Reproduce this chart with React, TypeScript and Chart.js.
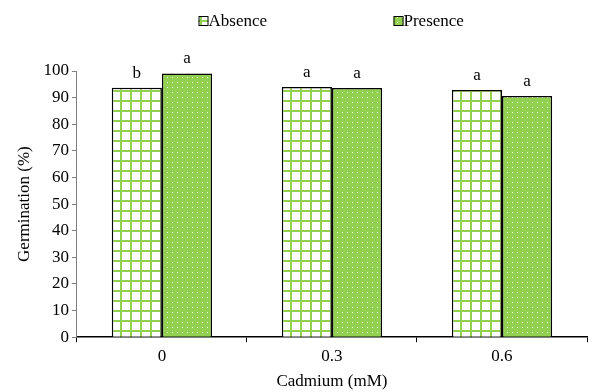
import React, { useEffect, useRef } from "react";
import { Chart, registerables } from "chart.js";

Chart.register(...registerables);

const categories = ["0", "0.3", "0.6"];
const absenceValues = [93.7, 94.0, 92.9];
const presenceValues = [99.1, 93.6, 90.6];
const absenceLetters = ["b", "a", "a"];
const presenceLetters = ["a", "a", "a"];
const seriesNames = ["Absence", "Presence"];

const GREEN = "#92d050";
const FONT = "'Liberation Serif', 'Times New Roman', serif";

function makeGridPattern(ctx: CanvasRenderingContext2D) {
  const c = document.createElement("canvas");
  c.width = 10;
  c.height = 10;
  const g = c.getContext("2d")!;
  g.fillStyle = "#ffffff";
  g.fillRect(0, 0, 10, 10);
  g.fillStyle = GREEN;
  g.fillRect(0, 0, 2, 10);
  g.fillRect(0, 0, 10, 2);
  return ctx.createPattern(c, "repeat")!;
}

function makeDotPattern(ctx: CanvasRenderingContext2D) {
  const c = document.createElement("canvas");
  c.width = 5;
  c.height = 5;
  const g = c.getContext("2d")!;
  g.fillStyle = GREEN;
  g.fillRect(0, 0, 5, 5);
  g.fillStyle = "rgba(255,255,255,0.9)";
  g.fillRect(2, 2, 1, 1);
  return ctx.createPattern(c, "repeat")!;
}

export default function App() {
  const ref = useRef<HTMLCanvasElement | null>(null);

  useEffect(() => {
    document.body.style.margin = "0";
    const canvas = ref.current!;
    const ctx = canvas.getContext("2d")!;
    const gridPat = makeGridPattern(ctx);
    const dotPat = makeDotPattern(ctx);
    const letters = [absenceLetters, presenceLetters];
    const fills = [gridPat, dotPat];

    const lettersPlugin = {
      id: "letters",
      afterDatasetsDraw(chart: any) {
        const c = chart.ctx;
        c.save();
        c.font = `17px ${FONT}`;
        c.fillStyle = "#000";
        c.textAlign = "center";
        c.textBaseline = "alphabetic";
        chart.data.datasets.forEach((_: any, di: number) => {
          const meta = chart.getDatasetMeta(di);
          meta.data.forEach((el: any, i: number) => {
            c.fillText(letters[di][i], el.x, el.y - 10);
          });
        });
        c.restore();
      },
    };

    const legendPlugin = {
      id: "customLegend",
      afterDraw(chart: any) {
        const c = chart.ctx;
        const cx = chart.width / 2;
        const positions = [cx - 99, cx + 96];
        c.save();
        c.font = `17px ${FONT}`;
        c.textBaseline = "middle";
        c.textAlign = "left";
        seriesNames.forEach((name, i) => {
          const x = positions[i];
          const y = 21;
          c.fillStyle = fills[i];
          c.fillRect(x, y - 5, 10, 10);
          c.strokeStyle = "#000";
          c.lineWidth = 1;
          c.strokeRect(x + 0.5, y - 4.5, 9, 9);
          c.fillStyle = "#000";
          c.fillText(name, x + 10, y + 1);
        });
        c.restore();
      },
    };

    const chart = new Chart(canvas, {
      type: "bar",
      data: {
        labels: categories,
        datasets: [
          {
            label: seriesNames[0],
            data: absenceValues,
            backgroundColor: gridPat,
            borderColor: "#000",
            borderWidth: 1.5,
            borderSkipped: "bottom",
            categoryPercentage: 0.59,
            barPercentage: 1,
          },
          {
            label: seriesNames[1],
            data: presenceValues,
            backgroundColor: dotPat,
            borderColor: "#000",
            borderWidth: 1.5,
            borderSkipped: "bottom",
            categoryPercentage: 0.59,
            barPercentage: 1,
          },
        ],
      },
      options: {
        responsive: false,
        animation: false,
        layout: { padding: { top: 71, right: 8, left: 14, bottom: 0 } },
        plugins: {
          legend: { display: false },
          tooltip: { enabled: false },
        },
        scales: {
          x: {
            grid: {
              offset: true,
              drawOnChartArea: false,
              drawTicks: true,
              tickLength: 5,
              color: "#000",
            },
            border: { color: "#000", width: 1.5 },
            ticks: { color: "#000", font: { family: FONT, size: 17 }, padding: 4 },
            title: {
              display: true,
              text: "Cadmium (mM)",
              color: "#000",
              font: { family: FONT, size: 17 },
              padding: { top: 1, bottom: 0 },
            },
          },
          y: {
            min: 0,
            max: 100,
            ticks: {
              stepSize: 10,
              color: "#000",
              font: { family: FONT, size: 17 },
              padding: 3,
            },
            grid: {
              drawOnChartArea: false,
              drawTicks: true,
              tickLength: 5,
              color: "#808080",
            },
            border: { color: "#808080", width: 1 },
            title: {
              display: true,
              text: "Germination (%)",
              color: "#000",
              font: { family: FONT, size: 17 },
              padding: { top: 0, bottom: 6 },
            },
          },
        },
      },
      plugins: [lettersPlugin, legendPlugin],
    });

    return () => chart.destroy();
  }, []);

  return <canvas ref={ref} width={595} height={392} style={{ display: "block" }} />;
}
